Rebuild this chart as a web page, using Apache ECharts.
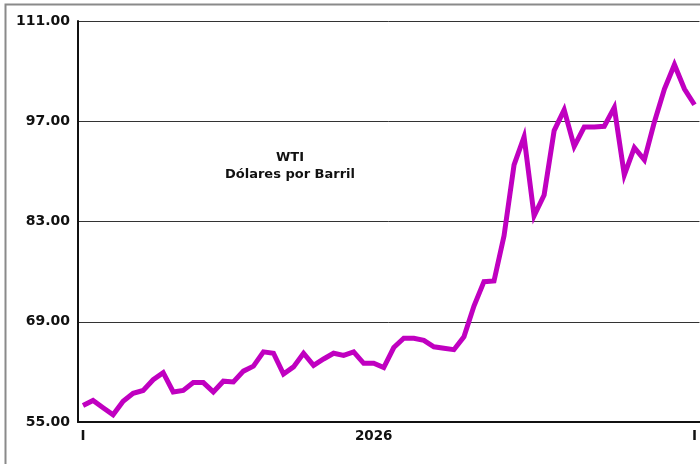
<!DOCTYPE html>
<html>
<head>
<meta charset="utf-8">
<script src="https://cdn.jsdelivr.net/npm/echarts@6/dist/echarts.min.js"></script>
<style>html,body{margin:0;padding:0;background:#fff;}#c{width:700px;height:464px;}</style>
</head>
<body>
<div id="c"></div>
<script>
const wtiValues = [
  57.3, 58.0, 57.0, 56.0, 57.9, 59.0, 59.4, 60.9, 61.9, 59.2,
  59.4, 60.5, 60.5, 59.2, 60.7, 60.6, 62.1, 62.8, 64.8, 64.6,
  61.7, 62.7, 64.6, 62.9, 63.8, 64.6, 64.3, 64.8, 63.2, 63.2,
  62.6, 65.4, 66.7, 66.7, 66.4, 65.5, 65.3, 65.1, 66.9, 71.2,
  74.6, 74.7, 81.0, 90.9, 94.8, 83.8, 86.7, 95.7, 98.6, 93.5,
  96.2, 96.2, 96.3, 98.9, 89.5, 93.3, 91.6, 96.9, 101.5, 104.9,
  101.5, 99.3
];
const categories = wtiValues.map((v, i) => 'w' + i);
const xTickLabels = { 0: 'I', 29: '2026', 61: 'I' };
const yMin = 55, yMax = 111, yStep = 14;
const titleLines = ['WTI', 'Dólares por Barril'];

const chart = echarts.init(document.getElementById('c'), null, { renderer: 'canvas' });
const font = 'DejaVu Sans';
chart.setOption({
  animation: false,
  backgroundColor: '#fff',
  grid: { left: 78, right: 0, top: 21, bottom: 42, containLabel: false },
  xAxis: {
    type: 'category',
    data: categories,
    boundaryGap: true,
    axisLine: { lineStyle: { color: '#111', width: 2 } },
    axisTick: { show: false },
    axisLabel: {
      interval: 0,
      margin: 7,
      formatter: (v, i) => xTickLabels[i] || '',
      color: '#111', fontFamily: font, fontWeight: 'bold', fontSize: 13.5
    },
    splitLine: { show: false }
  },
  yAxis: {
    type: 'value',
    min: yMin, max: yMax, interval: yStep,
    axisLine: { show: true, lineStyle: { color: '#111', width: 2 } },
    axisTick: { show: false },
    axisLabel: {
      margin: 8,
      formatter: v => v.toFixed(2),
      color: '#111', fontFamily: font, fontWeight: 'bold', fontSize: 14
    },
    splitLine: { show: true, lineStyle: { color: '#333', width: 1 } }
  },
  graphic: [
    { type: 'rect', shape: { x: 5.5, y: 4.5, width: 900, height: 900 }, style: { fill: 'none', stroke: '#8a8a8a', lineWidth: 2 }, silent: true },
    { type: 'text', x: 290, y: 158, style: { text: titleLines[0], font: 'bold 13px "DejaVu Sans"', fill: '#111', align: 'center', verticalAlign: 'middle' }, silent: true },
    { type: 'text', x: 290, y: 175, style: { text: titleLines[1], font: 'bold 13px "DejaVu Sans"', fill: '#111', align: 'center', verticalAlign: 'middle' }, silent: true }
  ],
  series: [{
    type: 'line',
    data: wtiValues,
    symbol: 'none',
    lineStyle: { color: '#C000C0', width: 5, join: 'miter' },
    z: 5
  }]
});
</script>
</body>
</html>
